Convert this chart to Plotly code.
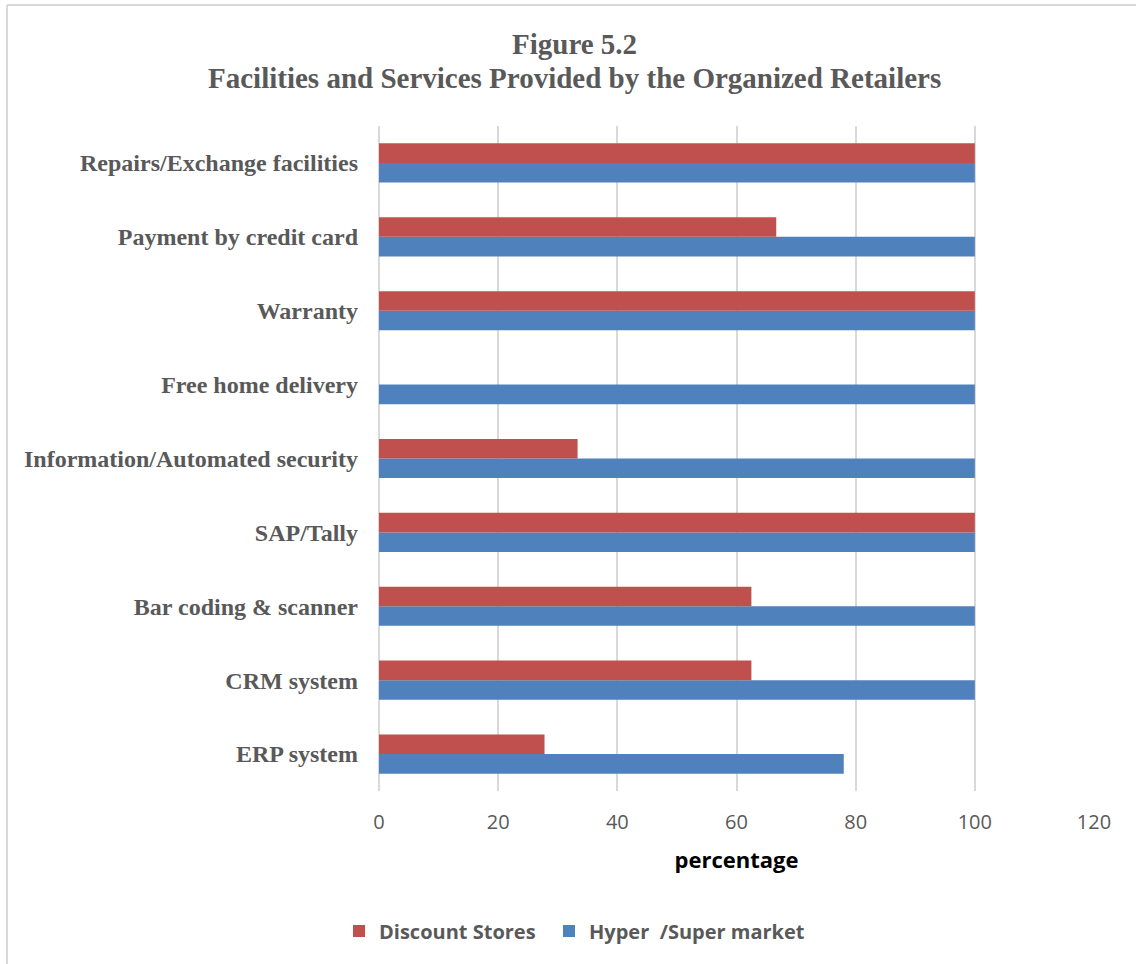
import plotly.graph_objects as go

categories = [
    "ERP system",
    "CRM system",
    "Bar coding & scanner",
    "SAP/Tally",
    "Information/Automated security",
    "Free home delivery",
    "Warranty",
    "Payment by credit card",
    "Repairs/Exchange facilities",
]
discount_stores = [27.78, 62.5, 62.5, 100, 33.33, 0, 100, 66.67, 100]
hyper_super = [78, 100, 100, 100, 100, 100, 100, 100, 100]
x_ticks = [0, 20, 40, 60, 80, 100, 120]

RED = "#C0504D"
BLUE = "#4F81BD"
GRAY_TXT = "#595959"
GRID = "#D9D9D9"

fig = go.Figure()
fig.add_trace(go.Bar(
    y=categories, x=hyper_super, orientation="h", name="Hyper  /Super market",
    marker=dict(color=BLUE, line=dict(width=0)), legend="legend2",
))
fig.add_trace(go.Bar(
    y=categories, x=discount_stores, orientation="h", name="Discount Stores",
    marker=dict(color=RED, line=dict(width=0)), legend="legend",
))

L, R, T, B = 379, 42, 126, 173
W, H = 1136, 964
pw = W - L - R
ph = H - T - B

def px_x(p):
    return (p - L) / pw

def px_y(p):
    return (H - B - p) / ph

legend_font = dict(family="Open Sans", size=20, color=GRAY_TXT, weight="bold")

fig.update_layout(
    width=W, height=H,
    margin=dict(l=L, r=R, t=T, b=B),
    paper_bgcolor="white", plot_bgcolor="white",
    barmode="group", bargap=0.47, bargroupgap=0,
    showlegend=True,
    legend=dict(
        orientation="h", x=px_x(339), y=px_y(931), xanchor="left", yanchor="middle",
        font=legend_font,
    ),
    legend2=dict(
        orientation="h", x=px_x(549), y=px_y(931), xanchor="left", yanchor="middle",
        font=legend_font,
    ),
    xaxis=dict(
        range=[0, 120], tickvals=x_ticks, ticktext=[str(v) for v in x_ticks],
        showgrid=True, gridcolor=GRID, gridwidth=1.5,
        zeroline=True, zerolinecolor=GRID, zerolinewidth=1.5,
        showline=False, ticks="",
        tickfont=dict(family="Open Sans", size=20, color=GRAY_TXT),
        ticklabelstandoff=17,
        title=dict(text="<b>percentage</b>", font=dict(family="Open Sans", size=22, color="black"), standoff=18),
    ),
    yaxis=dict(
        showgrid=False, showline=False, ticks="",
        tickfont=dict(family="Liberation Serif", size=24, color=GRAY_TXT, weight="bold"),
        ticklabelstandoff=20,
    ),
    annotations=[
        dict(text="<b>Figure 5.2</b>", xref="paper", yref="paper", x=px_x(574), y=px_y(44),
             xanchor="center", yanchor="middle", showarrow=False,
             font=dict(family="Liberation Serif", size=29, color=GRAY_TXT)),
        dict(text="<b>Facilities and Services Provided by the Organized Retailers</b>", xref="paper", yref="paper",
             x=px_x(574), y=px_y(78), xanchor="center", yanchor="middle", showarrow=False,
             font=dict(family="Liberation Serif", size=29, color=GRAY_TXT)),
    ],
    shapes=[
        dict(type="line", xref="paper", yref="paper", x0=px_x(7), x1=px_x(7), y0=px_y(5), y1=px_y(964),
             line=dict(color=GRID, width=2)),
        dict(type="line", xref="paper", yref="paper", x0=px_x(7), x1=px_x(1136), y0=px_y(5), y1=px_y(5),
             line=dict(color=GRID, width=2)),
    ],
)

fig.write_html("out.html")
